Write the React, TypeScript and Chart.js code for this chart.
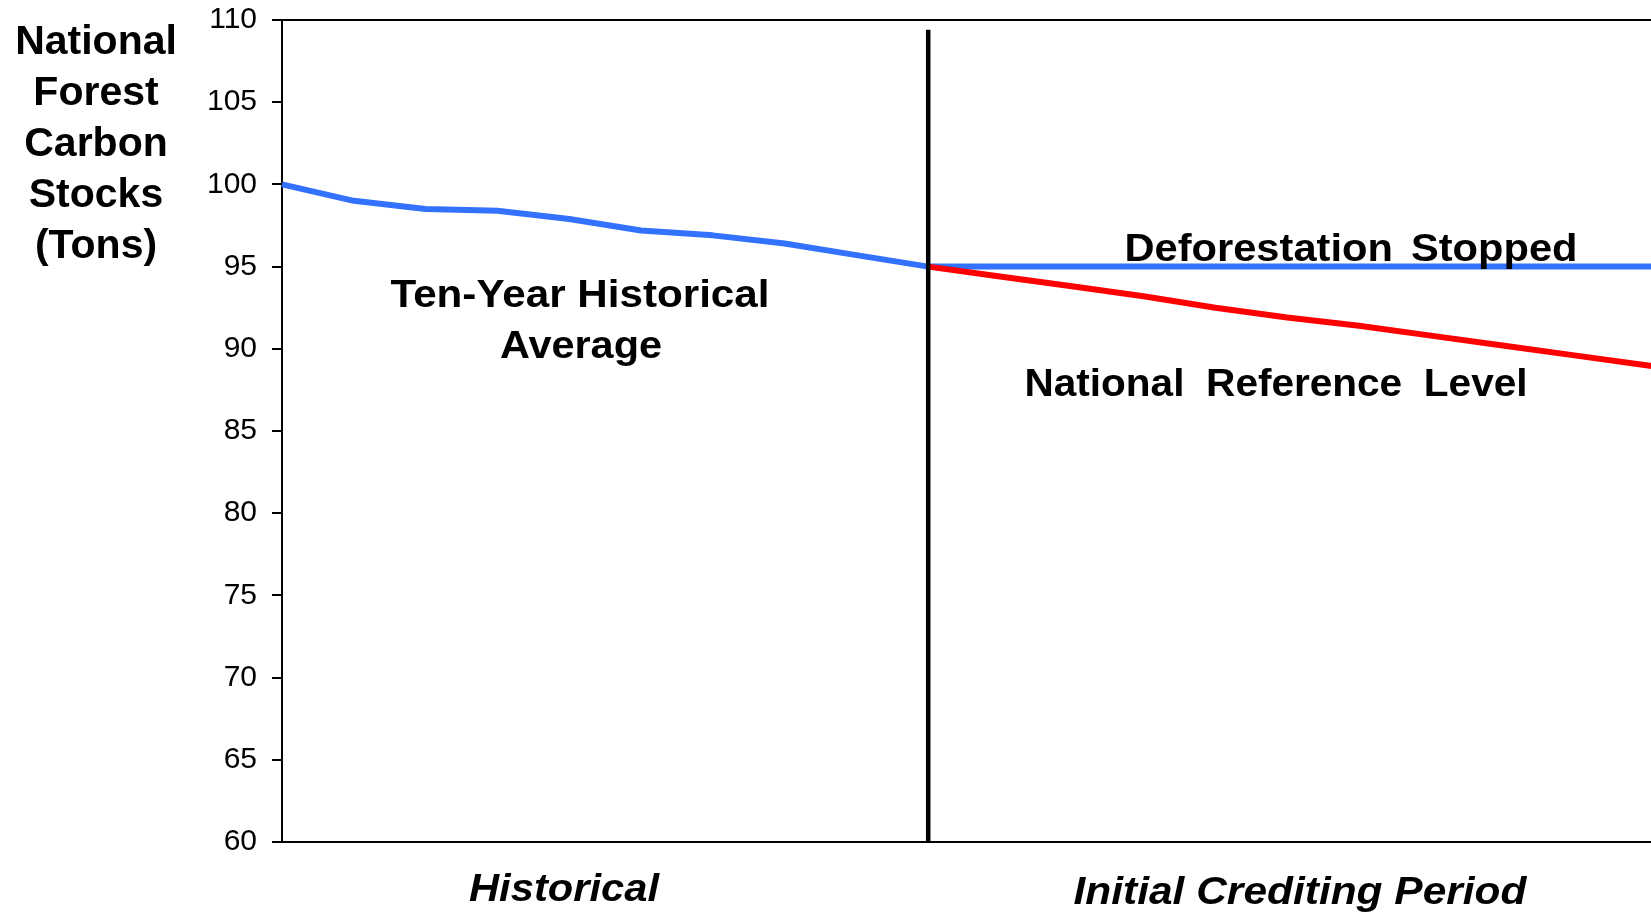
import React, { useEffect, useRef } from "react";
import { Chart, registerables } from "chart.js";

Chart.register(...registerables);

// ---- data ----
const periods: string[] = [
  "Y1", "Y2", "Y3", "Y4", "Y5", "Y6", "Y7", "Y8", "Y9", "Y10",
  "Y11", "Y12", "Y13", "Y14", "Y15", "Y16", "Y17", "Y18", "Y19", "Y20", "Y21",
];
// historical forest carbon stocks, periods Y1..Y10
const historicalStocks: number[] = [100, 99.0, 98.5, 98.4, 97.9, 97.2, 96.9, 96.4, 95.7, 95.0];
// national reference level, periods Y10..Y21
const referenceLevel: number[] = [95.0, 94.4, 93.8, 93.2, 92.5, 91.9, 91.4, 90.8, 90.2, 89.6, 89.0, 88.4];
// deforestation stopped, periods Y10..Y21
const deforestationStopped: number[] = [95, 95, 95, 95, 95, 95, 95, 95, 95, 95, 95, 95];
// divider between historical and crediting period
const dividerPeriod = "Y10";
const dividerRange: number[] = [60, 109.4];

const yMin = 60;
const yMax = 110;
const yStep = 5;

const yTitleLines: string[] = ["National", "Forest", "Carbon", "Stocks", "(Tons)"];
const historicalNote: string[] = ["Ten-Year Historical", "Average"];
const stoppedNote = "Deforestation Stopped";
const referenceNote = "National Reference Level";
const periodLabels: string[] = ["Historical", "Initial Crediting Period"];

const FONT = '"Liberation Sans", Arial, Helvetica, sans-serif';
const BLUE = "#3371ff";
const RED = "#ff0000";

function padSeries(values: number[], start: number, total: number): (number | null)[] {
  const out: (number | null)[] = [];
  for (let i = 0; i < total; i++) {
    const j = i - start;
    out.push(j >= 0 && j < values.length ? values[j] : null);
  }
  return out;
}

function fitText(
  ctx: CanvasRenderingContext2D,
  text: string,
  cx: number,
  baseline: number,
  size: number,
  width: number | null,
  style: string,
  wordGap = 0
) {
  ctx.save();
  ctx.font = `${style} ${size}px ${FONT}`;
  (ctx as any).wordSpacing = `${wordGap}px`;
  const natural = ctx.measureText(text).width;
  const sx = width ? width / natural : 1;
  ctx.translate(cx, baseline);
  ctx.scale(sx, 1);
  ctx.textAlign = "center";
  ctx.textBaseline = "alphabetic";
  ctx.fillStyle = "#000";
  ctx.fillText(text, 0, 0);
  ctx.restore();
}

const textPlugin = {
  id: "textNotes",
  afterDraw(chart: any) {
    const ctx: CanvasRenderingContext2D = chart.ctx;
    yTitleLines.forEach((line, i) => {
      fitText(ctx, line, 96, 54 + i * 51, 41, null, "bold");
    });
    fitText(ctx, historicalNote[0], 580, 307, 38, 379, "bold");
    fitText(ctx, historicalNote[1], 581, 358, 38, 162, "bold");
    fitText(ctx, stoppedNote, 1351, 261, 38, 453, "bold", 6);
    fitText(ctx, referenceNote, 1276, 396, 39, 503, "bold", 10);
    fitText(ctx, periodLabels[0], 564, 901, 38, 190, "italic bold");
    fitText(ctx, periodLabels[1], 1300, 904, 38, 453, "italic bold");
  },
};

export default function App() {
  const canvasRef = useRef<HTMLCanvasElement | null>(null);

  useEffect(() => {
    const canvas = canvasRef.current;
    if (!canvas) return;
    const n = periods.length;
    const chart = new Chart(canvas, {
      type: "line",
      data: {
        labels: periods,
        datasets: [
          {
            label: "divider",
            data: dividerRange.map((v) => ({ x: dividerPeriod, y: v })) as any,
            borderColor: "#000",
            borderWidth: 4.5,
            pointRadius: 0,
            clip: false as any,
          },
          {
            label: "National Reference Level",
            data: padSeries(referenceLevel, 9, n),
            borderColor: RED,
            borderWidth: 6,
            pointRadius: 0,
          },
          {
            label: "Historical",
            data: padSeries(historicalStocks, 0, n),
            borderColor: BLUE,
            borderWidth: 6,
            pointRadius: 0,
          },
          {
            label: "Deforestation Stopped",
            data: padSeries(deforestationStopped, 9, n),
            borderColor: BLUE,
            borderWidth: 6,
            pointRadius: 0,
          },
        ],
      },
      options: {
        responsive: false,
        animation: false,
        layout: { padding: { top: 20, bottom: 70, left: 0, right: 42 } },
        plugins: {
          legend: { display: false },
          tooltip: { enabled: false },
          title: { display: false },
        },
        elements: {
          point: { radius: 0 },
          line: { tension: 0, borderJoinStyle: "round", borderCapStyle: "butt" },
        },
        scales: {
          x: {
            type: "category",
            offset: false,
            grid: { display: false, drawTicks: false },
            border: { display: true, color: "#000", width: 2 },
            ticks: { display: false },
            afterFit: (s: any) => {
              s.height = 0;
              s.paddingLeft = 0;
              s.paddingRight = 0;
            },
          },
          y: {
            min: yMin,
            max: yMax,
            ticks: {
              stepSize: yStep,
              color: "#000",
              font: { family: FONT, size: 30 },
              padding: 15,
            },
            grid: {
              color: (c: any) => (c.tick && c.tick.value === yMax ? "#000" : "rgba(0,0,0,0)"),
              tickColor: "#000",
              tickLength: 10,
              lineWidth: 2,
              drawOnChartArea: true,
            },
            border: { display: true, color: "#000", width: 2 },
            afterFit: (s: any) => {
              s.width = 282;
              s.paddingTop = 0;
              s.paddingBottom = 0;
            },
          },
        },
      },
      plugins: [textPlugin],
    });
    return () => chart.destroy();
  }, []);

  return (
    <div
      style={{
        position: "fixed",
        left: 0,
        top: 0,
        width: "1651px",
        height: "912px",
        overflow: "hidden",
        background: "#fff",
      }}
    >
      <canvas ref={canvasRef} width={1760} height={912} style={{ display: "block" }} />
    </div>
  );
}
